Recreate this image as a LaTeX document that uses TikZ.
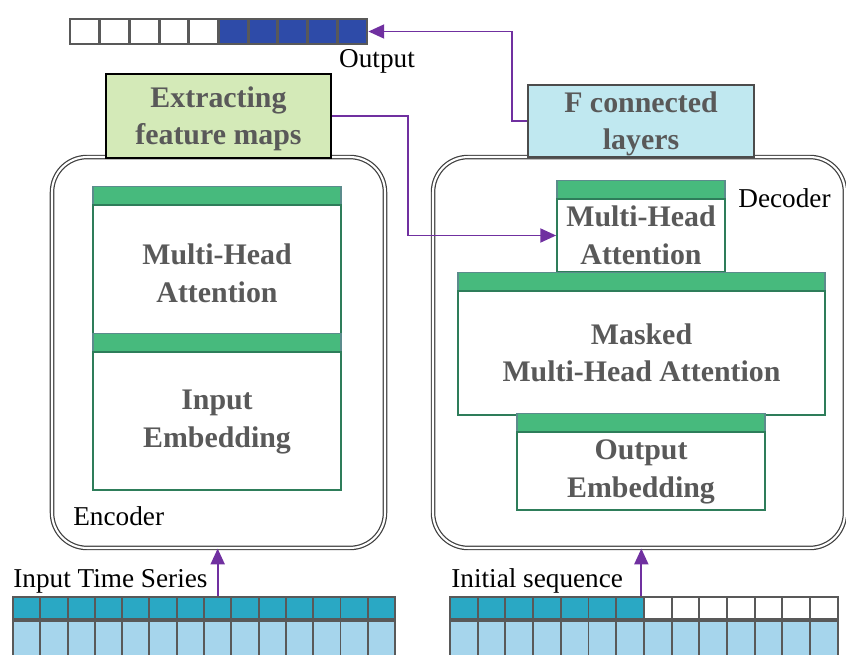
\documentclass[tikz,border=0pt]{standalone}
\usepackage{fontspec}
\setmainfont{Liberation Serif}
\usetikzlibrary{arrows.meta}

\definecolor{arrowpurple}{HTML}{7030A0}
\definecolor{stripgreen}{HTML}{47BA7D}
\definecolor{stripedge}{HTML}{5B8C8C}
\definecolor{blockedge}{HTML}{2E7D5A}
\definecolor{labelgrey}{HTML}{595959}
\definecolor{outblue}{HTML}{2E4BA8}
\definecolor{cellteal}{HTML}{2AA8C4}
\definecolor{celllight}{HTML}{A6D5EC}
\definecolor{extractfill}{HTML}{D4EAB8}
\definecolor{fclfill}{HTML}{C0E8F0}

\begin{document}
\begin{tikzpicture}[x=0.02cm, y=-0.02cm, >={Triangle[length=9pt,width=8pt]},
    boldlabel/.style={font=\fontsize{17}{21.5}\selectfont\bfseries, text=labelgrey, align=center, text height=37pt, text depth=4pt},
    plainlabel/.style={font=\fontsize{15.5}{18}\selectfont, inner sep=0pt},
    container/.style={draw=black!75, double=white, double distance=1.2pt, line width=0.7pt, rounded corners=0.7cm, inner sep=0pt},
    block/.style={boldlabel, draw=blockedge, line width=1pt, fill=white, inner sep=0pt,
        append after command={\pgfextra{\fill[stripgreen, draw=stripedge, line width=0.7pt]
            ([xshift=0.5pt]\tikzlastnode.north west) rectangle ([xshift=-0.5pt, yshift=0.36cm]\tikzlastnode.north east);}}},
    topbox/.style={boldlabel, line width=1.2pt, inner sep=0pt},
    link/.style={->, arrowpurple, line width=1pt},
    cell/.style={draw=black!65, line width=1.1pt, inner sep=0pt, minimum width=0.546cm},
    outcell/.style={draw=black!65, line width=1.6pt, inner sep=0pt, minimum width=0.594cm, minimum height=0.5cm}]

    \useasboundingbox (0,0) rectangle (846,655);
    \clip (0,0) rectangle (846,655);

    % encoder and decoder frames
    \node[container, minimum width=6.66cm, minimum height=7.82cm] (encoder) at (218.5,352.5) {};
    \node[container, minimum width=8.24cm, minimum height=7.82cm] (decoder) at (639,352.5) {};

    % top boxes
    \node[topbox, draw=black, fill=extractfill, minimum width=4.5cm, minimum height=1.68cm] (extract) at (218.5,116) {Extracting\\feature maps};
    \node[topbox, draw=black!70, fill=fclfill, minimum width=4.52cm, minimum height=1.44cm] (fcl) at (641,121) {F connected\\layers};

    % encoder blocks
    \node[block, text height=41pt, minimum width=4.96cm, minimum height=2.6cm] (emha) at (217,270) {Multi-Head\\Attention};
    \node[block, text height=34pt, minimum width=4.96cm, minimum height=2.76cm] (embed) at (217,421) {Input\\Embedding};

    % decoder blocks
    \node[block, minimum width=3.36cm, minimum height=1.46cm] (dmha) at (641,235.5) {Multi-Head\\Attention};
    \node[block, minimum width=7.34cm, minimum height=2.48cm] (masked) at (641.5,353) {Masked\\Multi-Head Attention};
    \node[block, text height=34pt, minimum width=4.96cm, minimum height=1.56cm] (outembed) at (641,471) {Output\\Embedding};

    % plain labels
    \node[plainlabel, anchor=base] (outlabel) at (377,68) {Output};
    \node[plainlabel, anchor=base west] (enclabel) at (73,525) {Encoder};
    \node[plainlabel, anchor=base west] (declabel) at (738,208) {Decoder};
    \node[plainlabel, anchor=base west] (inlabel) at (13,587) {Input Time Series};
    \node[plainlabel, anchor=base west] (initlabel) at (451,587) {Initial sequence};

    % output sequence
    \foreach \i in {1,...,10}{
        \ifnum\i<6 \def\cellfill{white}\else\def\cellfill{outblue}\fi
        \node[outcell, fill=\cellfill] (outcell\i) at ({70+29.7*(\i-0.5)},31.5) {};
    }

    % input time series
    \foreach \i in {1,...,14}{
        \node[cell, fill=cellteal, minimum height=0.44cm] (incell\i) at ({13+27.29*(\i-0.5)},608) {};
        \node[cell, fill=celllight, minimum height=0.9cm, anchor=north] (inlow\i) at (incell\i.south) {};
    }

    % initial sequence
    \foreach \i in {1,...,14}{
        \ifnum\i<8 \def\cellfill{cellteal}\else\def\cellfill{white}\fi
        \node[cell, fill=\cellfill, minimum height=0.44cm, minimum width=0.554cm] (initcell\i) at ({450+27.7*(\i-0.5)},608) {};
        \node[cell, fill=celllight, minimum height=0.9cm, minimum width=0.554cm, anchor=north] (initlow\i) at (initcell\i.south) {};
    }

    % arrows
    \draw[link] (incell8.north) -- (incell8.north |- encoder.south);
    \draw[link] ([xshift=-2pt]initcell7.north east) -- ([xshift=-2pt]initcell7.north east |- decoder.south);
    \draw[link] (extract.east) -- ++(76,0) |- (dmha.west);
    \draw[link] (fcl.west) -- ++(-15,0) |- (outcell10.east);
\end{tikzpicture}
\end{document}
